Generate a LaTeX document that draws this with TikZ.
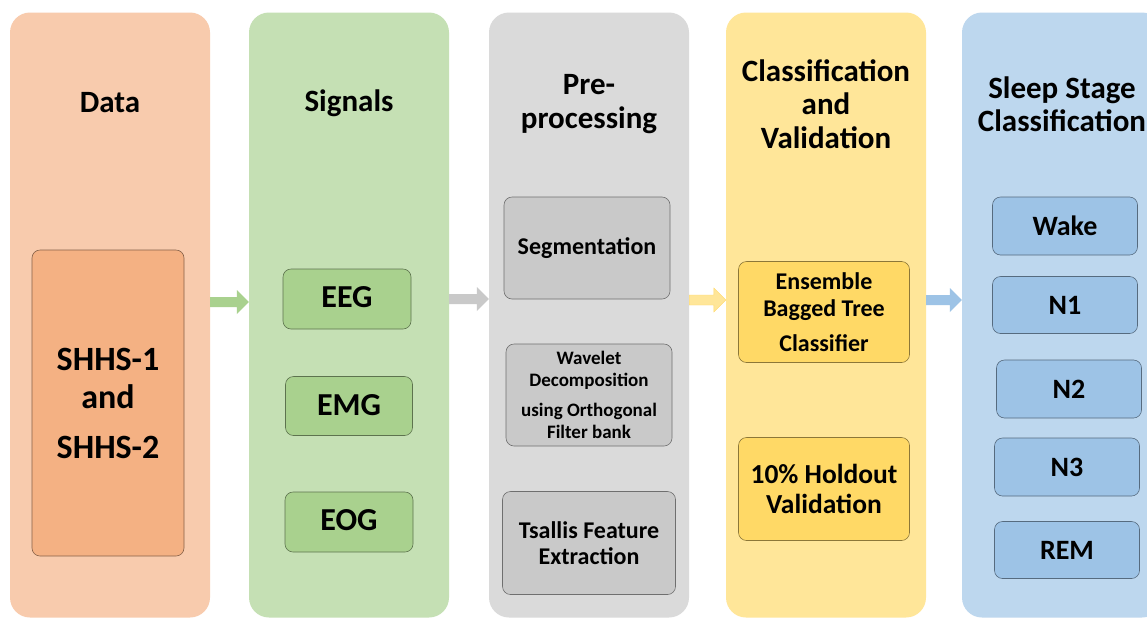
\documentclass[tikz,border=0pt]{standalone}
\usepackage{fontspec}
\setmainfont{Carlito}
\usetikzlibrary{positioning}
\usetikzlibrary{calc}
\definecolor{dataPanel}{HTML}{F8CBAD}
\definecolor{dataBox}{HTML}{F4B183}
\definecolor{sigPanel}{HTML}{C5E0B4}
\definecolor{sigBox}{HTML}{A9D18E}
\definecolor{prePanel}{HTML}{DADADA}
\definecolor{preBox}{HTML}{C9C9C9}
\definecolor{clsPanel}{HTML}{FFE699}
\definecolor{clsBox}{HTML}{FFD966}
\definecolor{stgPanel}{HTML}{BDD7EE}
\definecolor{stgBox}{HTML}{9DC3E6}
\tikzset{panel/.style = {fill = #1, rounded corners = 20, inner sep = 0,
                         minimum width = 200, minimum height = 605}}
\tikzset{box/.style = {fill = #1, draw = #1!55!black, line width = 0.6,
                       rounded corners = 8, inner sep = 0, align = center,
                       font = \bfseries\fontsize{28}{33}\selectfont}}
\tikzset{sigbox/.style = {box = sigBox, minimum width = 128, minimum height = 60,
                          font = \bfseries\fontsize{32}{36}\selectfont}}
\tikzset{head/.style = {align = center, font = \bfseries\fontsize{31}{33.5}\selectfont}}
\newcommand{\blockarrow}[4]{%
  \fill [#4] (#1.east |- 0,#3) ++(0,-5) -- ($(#2.west |- 0,#3) + (-12,-5)$) -- ++(0,-7)
    -- (#2.west |- 0,#3) -- ++(-12,12) -- ++(0,-7) -- ($(#1.east |- 0,#3) + (0,5)$) -- cycle;}

\begin{document}
\begin{tikzpicture}[x = 1pt, y = -1pt]
      \clip (0, 0) rectangle (1147, 619);
      \fill [white] (0, 0) rectangle (1147, 619);
      % columns
      \node [panel = dataPanel] (data) at (110, 315) {};
      \node [panel = sigPanel] (sig) at (349, 315) {};
      \node [panel = prePanel] (pre) at (589, 315) {};
      \node [panel = clsPanel] (cls) at (826, 315) {};
      \node [panel = stgPanel] (stg) at (1062, 315) {};
      % headings
      \node [head] (dataHead) at (110, 103) {Data};
      \node [head] (sigHead) at (349, 103) {Signals};
      \node [head] (preHead) at (589, 104) {Pre-\\processing};
      \node [head] (clsHead) at (826, 104) {Classification\\and\\Validation};
      \node [head] (stgHead) at (1062, 104) {Sleep Stage\\Classification};
      % data
      \node [box = dataBox, minimum width = 152, minimum height = 306,
             font = \bfseries\fontsize{34}{38}\selectfont] (shhs) at (108, 403)
            {SHHS-1\\and\\[12pt]SHHS-2};
      % signals
      \node [sigbox] (eeg) at (347, 299) {\raisebox{4pt}{EEG}};
      \node [sigbox, minimum width = 127, minimum height = 59] (emg) at (349, 406) {\raisebox{3pt}{EMG}};
      \node [sigbox] (eog) at (349, 522) {\raisebox{4pt}{EOG}};
      % pre-processing
      \node [box = preBox, minimum width = 166, minimum height = 102,
             font = \bfseries\fontsize{24}{28}\selectfont] (seg) at (587, 248) {Segmentation};
      \node [box = preBox, minimum width = 166, minimum height = 102,
             font = \bfseries\fontsize{19}{22}\selectfont] (wav) at (589, 395)
            {Wavelet\\Decomposition\\[8pt]using Orthogonal\\Filter bank};
      \node [box = preBox, minimum width = 173, minimum height = 103,
             font = \bfseries\fontsize{24}{26}\selectfont] (tsa) at (589, 543)
            {Tsallis Feature\\Extraction};
      % classification
      \node [box = clsBox, minimum width = 171, minimum height = 101,
             font = \bfseries\fontsize{24}{27}\selectfont] (ebt) at (824, 312)
            {Ensemble\\Bagged Tree\\[8pt]Classifier};
      \node [box = clsBox, minimum width = 171, minimum height = 103,
             font = \bfseries\fontsize{27.5}{30}\selectfont] (hold) at (824, 489)
            {10\% Holdout\\Validation};
      % stages
      \node [box = stgBox, minimum width = 145, minimum height = 58] (wake) at (1065, 226) {Wake};
      \node [box = stgBox, minimum width = 145, minimum height = 57] (n1) at (1065, 305) {N1};
      \node [box = stgBox, minimum width = 145, minimum height = 58] (n2) at (1069, 389) {N2};
      \node [box = stgBox, minimum width = 145, minimum height = 58] (n3) at (1067, 467) {N3};
      \node [box = stgBox, minimum width = 145, minimum height = 57] (rem) at (1067, 550) {REM};
      % arrows
      \blockarrow{data}{sig}{302}{sigBox}
      \blockarrow{sig}{pre}{299}{preBox}
      \blockarrow{pre}{cls}{300}{clsPanel, draw = clsBox}
      \blockarrow{cls}{stg}{300}{stgBox}
    \end{tikzpicture}
\end{document}
